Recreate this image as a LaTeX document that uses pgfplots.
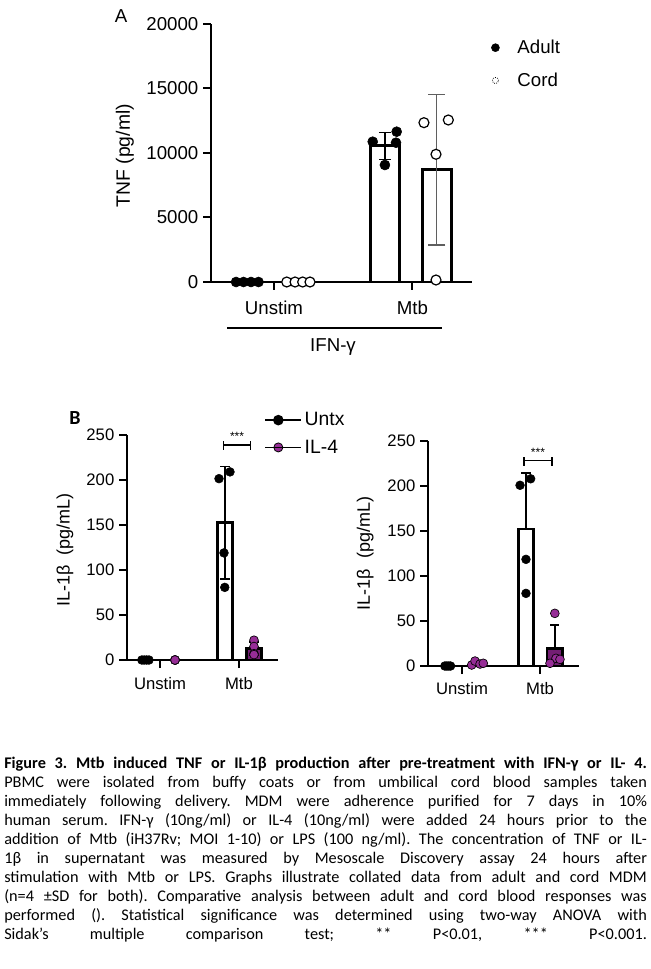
\documentclass[border=0pt]{standalone}
\usepackage{pgfplots}
\pgfplotsset{compat=1.18}
\usepackage{fontspec}
\setmainfont{Liberation Sans}
\newfontfamily\capfont{Carlito}
\definecolor{ilfour}{RGB}{150,45,150}
\definecolor{ilfourbar}{RGB}{115,30,115}
\definecolor{errgray}{RGB}{95,95,95}
\pgfplotsset{
  gp/.style={
    scale only axis, clip=false,
    axis x line*=bottom, axis y line*=left,
    axis line style={line width=2pt,-},
    tick align=outside,
    major tick length=6pt,
    tick style={line width=1.5pt,black},
    scaled y ticks=false,
    /pgf/number format/assume math mode=true,
    /pgf/number format/1000 sep={},
    xtick={0,1}, xticklabels={Unstim,Mtb},
    minor tick num=0,
    every axis y label/.style={rotate=90,anchor=center},
    legend cell align=left,
  },
  abar/.style={ybar, bar shift=0pt, forget plot, draw=black, line width=2.2pt, fill=white},
  bbar/.style={ybar, bar shift=0pt, forget plot, draw=black, line width=1.9pt, bar width=11.6pt},
}
\begin{document}
\frenchspacing
\begin{tikzpicture}[x=0.75pt,y=-0.75pt]
\useasboundingbox (0,0) rectangle (650,969);
\coordinate (Ao) at (211,282);
\coordinate (Bo) at (127,660);
\coordinate (Co) at (428,666);

% ---------------- Panel A ----------------
\begin{axis}[gp, at={(Ao)}, anchor=south west,
  width=195.75pt, height=193.5pt,
  xmin=-0.455, xmax=1.43, ymin=0, ymax=20000,
  ytick={0,5000,10000,15000,20000},
  ticklabel style={font=\fontsize{14}{14}\selectfont},
  xticklabel style={yshift=-5pt},
  ylabel={TNF (pg/ml)},
  ylabel style={at={(axis description cs:-0.33,0.49)}, font=\fontsize{14.5}{14.5}\selectfont},
  legend style={draw=none, fill=none, at={(axis description cs:1.03,0.96)}, anchor=north west,
    font=\fontsize{14}{14}\selectfont, row sep=9pt},
  legend image code/.code={\draw[#1] plot coordinates {(8.5pt,0pt)}; \path (0pt,0pt) -- (23pt,0pt);},
]
\addplot[abar, bar width=21.75pt] coordinates {(-0.2,0) (0.175,0)};
\addplot[abar, bar width=21.75pt,
  error bars/.cd, y dir=both, y explicit,
  error bar style={line width=1.1pt, black},
  error mark options={rotate=90, mark size=4.5pt, line width=1.1pt, black}]
  coordinates {(0.8,10550) +- (0,1050)};
\addplot[abar, bar width=21.75pt,
  error bars/.cd, y dir=both, y explicit,
  error bar style={line width=1.1pt, errgray},
  error mark options={rotate=90, mark size=6.5pt, line width=1.1pt, errgray}]
  coordinates {(1.175,8700) +- (0,5850)};
% Adult points
\addplot[forget plot, only marks, mark=*, mark size=3.75pt, mark options={fill=black, draw=black}]
  coordinates {(-0.274,0)(-0.22,0)(-0.166,0)(-0.112,0)(0.713,10876)(0.886,11651)(0.881,10798)(0.801,9070)};
% Cord points
\addplot[forget plot, only marks, mark=*, mark size=3.75pt, mark options={fill=white, draw=black, line width=0.9pt}]
  coordinates {(0.092,0)(0.152,0)(0.207,0)(0.26,0)(1.083,12350)(1.259,12558)(1.17,9900)(1.17,155)};
\addlegendimage{draw=none, mark=*, mark size=3pt, mark options={draw=black, fill=black}}
\addlegendentry{Adult}
\addlegendimage{draw=none, mark=*, mark size=2.3pt, mark options={draw=black, fill=white, densely dotted, line width=0.6pt}}
\addlegendentry{Cord}
\end{axis}
\node[font=\fontsize{14}{14}\selectfont] at (121,16) {A};
\draw[line width=0.9pt] (227,328) -- (442,328);
\node[font=\fontsize{14}{14}\selectfont] at (333,347) {IFN-γ};

% ---------------- Panel B left ----------------
\begin{axis}[gp, at={(Bo)}, anchor=south west,
  width=113.25pt, height=168.75pt,
  axis line style={line width=1.9pt,-},
  xmin=-0.418, xmax=1.494, ymin=0, ymax=250,
  ytick={0,50,100,150,200,250},
  ticklabel style={font=\fontsize{12.5}{12.5}\selectfont},
  xticklabel style={yshift=-3.5pt},
  ylabel={IL-1β\ \ (pg/mL)},
  ylabel style={at={(axis description cs:-0.41,0.49)}, font=\fontsize{13.5}{13.5}\selectfont},
  legend style={draw=none, fill=none, at={(axis description cs:0.883,1.125)}, anchor=north west,
    font=\fontsize{14.5}{14.5}\selectfont, row sep=5pt},
  legend image code/.code={\draw[mark repeat=2, mark phase=2, #1] plot coordinates {(0pt,0pt)(9.75pt,0pt)(19.5pt,0pt)}; \path (0pt,0pt) -- (27pt,0pt);},
]
\addplot[bbar, fill=white] coordinates {(-0.18,0)};
\addplot[bbar, fill=ilfourbar] coordinates {(0.19,0)};
\addplot[bbar, fill=white,
  error bars/.cd, y dir=both, y explicit,
  error bar style={line width=1.1pt, black},
  error mark options={rotate=90, mark size=3.5pt, line width=1.1pt, black}]
  coordinates {(0.823,152.5) +- (0,62.7)};
\addplot[bbar, fill=ilfourbar,
  error bars/.cd, y dir=both, y explicit,
  error bar style={line width=1.1pt, black},
  error mark options={rotate=90, mark size=3.5pt, line width=1.1pt, black}]
  coordinates {(1.19,12.5) +- (0,7.5)};
\addplot[forget plot, only marks, mark=*, mark size=3.3pt, mark options={fill=black, draw=black}]
  coordinates {(-0.23,0)(-0.2,0)(-0.17,0)(-0.14,0)(0.747,201.5)(0.886,209)(0.81,119)(0.82,80.7)};
\addplot[forget plot, only marks, mark=*, mark size=3.3pt, mark options={fill=ilfour, draw=black, line width=0.5pt}]
  coordinates {(0.19,0)(0.19,0)(0.19,0)(0.19,0)(1.19,22)(1.19,15)(1.19,7)(1.19,6)};
\draw[line width=0.9pt] (axis cs:0.8,243) -- (axis cs:0.8,233);
\draw[line width=0.9pt] (axis cs:1.15,243) -- (axis cs:1.15,233);
\draw[line width=0.9pt] (axis cs:0.8,239) -- (axis cs:1.15,239);
\node[font=\fontsize{9}{9}\selectfont, inner sep=0pt] at (axis cs:0.975,248) {***};
\addlegendimage{black, line width=1.1pt, mark=*, mark size=3.4pt, mark options={fill=black, draw=black}}
\addlegendentry{Untx}
\addlegendimage{black, line width=1.1pt, mark=*, mark size=3.4pt, mark options={fill=ilfour, draw=black, line width=0.6pt}}
\addlegendentry{IL-4}
\end{axis}
\node[font=\capfont\bfseries\fontsize{15}{15}\selectfont] at (75,418) {B};

% ---------------- Panel B right ----------------
\begin{axis}[gp, at={(Co)}, anchor=south west,
  width=113.25pt, height=168.75pt,
  axis line style={line width=1.9pt,-},
  xmin=-0.436, xmax=1.5, ymin=0, ymax=250,
  ytick={0,50,100,150,200,250},
  ticklabel style={font=\fontsize{12.5}{12.5}\selectfont},
  xticklabel style={yshift=-3pt},
  ylabel={IL-1β\ \ (pg/mL)},
  ylabel style={at={(axis description cs:-0.415,0.5)}, font=\fontsize{13.5}{13.5}\selectfont},
]
\addplot[bbar, fill=white] coordinates {(-0.18,0)};
\addplot[bbar, fill=ilfourbar] coordinates {(0.19,3)};
\addplot[bbar, fill=white,
  error bars/.cd, y dir=plus, y explicit,
  error bar style={line width=1.1pt, black},
  error mark options={rotate=90, mark size=3.5pt, line width=1.1pt, black}]
  coordinates {(0.82,152) +- (0,62.5)};
\addplot[bbar, fill=ilfourbar,
  error bars/.cd, y dir=plus, y explicit,
  error bar style={line width=1.1pt, black},
  error mark options={rotate=90, mark size=3.5pt, line width=1.1pt, black}]
  coordinates {(1.19,19.4) +- (0,26.2)};
\addplot[forget plot, only marks, mark=*, mark size=3.3pt, mark options={fill=black, draw=black}]
  coordinates {(-0.22,0)(-0.195,0)(-0.17,0)(-0.147,0)(0.744,200.8)(0.88,208)(0.82,118.5)(0.82,80.7)};
\addplot[forget plot, only marks, mark=*, mark size=3.3pt, mark options={fill=ilfour, draw=black, line width=0.5pt}]
  coordinates {(0.124,1.1)(0.167,5.5)(0.231,2.2)(0.273,3)(1.19,58.5)(1.205,8.5)(1.256,7.4)(1.128,3)};
\draw[line width=0.9pt] (axis cs:0.795,232) -- (axis cs:0.795,222);
\draw[line width=0.9pt] (axis cs:1.154,232) -- (axis cs:1.154,222);
\draw[line width=0.9pt] (axis cs:0.795,228) -- (axis cs:1.154,228);
\node[font=\fontsize{9}{9}\selectfont, inner sep=0pt] at (axis cs:0.974,237) {***};
\end{axis}

% ---------------- Caption ----------------
\begin{scope}[every node/.style={anchor=base west, inner sep=0pt, font=\capfont\fontsize{12.2}{14}\selectfont}]
\node at (4,768) {\makebox[482pt][s]{\bfseries Figure 3. Mtb induced TNF or IL-1β production after pre-treatment with IFN-γ or IL- 4.}};
\node at (4,787) {\makebox[482pt][s]{PBMC were isolated from buffy coats or from umbilical cord blood samples taken}};
\node at (4,806) {\makebox[482pt][s]{immediately following delivery. MDM were adherence purified for 7 days in 10\%}};
\node at (4,825) {\makebox[482pt][s]{human serum. IFN-γ (10ng/ml) or IL-4 (10ng/ml) were added 24 hours prior to the}};
\node at (4,844) {\makebox[482pt][s]{addition of Mtb (iH37Rv; MOI 1-10) or LPS (100 ng/ml). The concentration of TNF or IL-}};
\node at (4,863) {\makebox[482pt][s]{1β in supernatant was measured by Mesoscale Discovery assay 24 hours after}};
\node at (4,882) {\makebox[482pt][s]{stimulation with Mtb or LPS. Graphs illustrate collated data from adult and cord MDM}};
\node at (4,901) {\makebox[482pt][s]{(n=4 ±SD for both). Comparative analysis between adult and cord blood responses was}};
\node at (4,920) {\makebox[482pt][s]{performed (). Statistical significance was determined using two-way ANOVA with}};
\node at (4,939) {\makebox[482pt][s]{Sidak’s multiple comparison test; ** P<0.01, *** P<0.001.}};
\end{scope}
\end{tikzpicture}
\end{document}
